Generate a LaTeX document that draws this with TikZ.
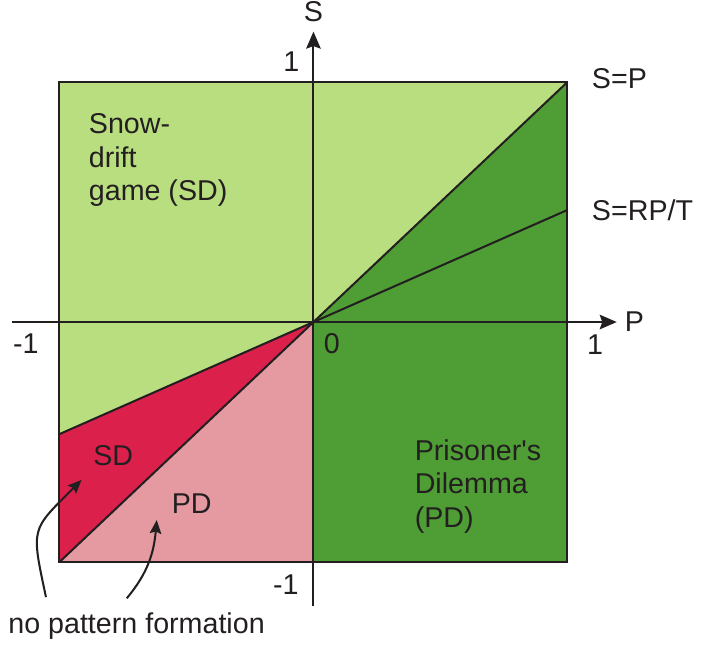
\documentclass[tikz,border=0pt]{standalone}
\usepackage{fontspec}
\setmainfont{Liberation Sans}
\usepackage{tikz}
\usetikzlibrary{arrows.meta}
\usepackage{xcolor}
\definecolor{ink}{HTML}{231F20}
\definecolor{sdlight}{HTML}{B9DE80}
\definecolor{pdgreen}{HTML}{4F9D35}
\definecolor{sdred}{HTML}{DC204C}
\definecolor{pdpink}{HTML}{E59AA1}
\tikzset{
  lbl/.style={inner sep=0pt},
  axis/.style={-{Stealth[length=3.4mm,width=2.9mm,inset=0.5mm]}},
  pointer/.style={-{Stealth[length=2.7mm,width=2.3mm,inset=0.4mm]}}
}

\begin{document}
\begin{tikzpicture}[x=5.08cm,y=4.8cm,line width=1.15pt,color=ink,
  font=\fontsize{16.3pt}{19pt}\selectfont]
\useasboundingbox (-1.234,-1.35) rectangle (1.5965,1.3417);
% regions of the (P,S) square
\fill[sdlight] (-1,-1) rectangle (1,1);
\fill[pdgreen] (0,0) -- (1,1) -- (1,-1) -- (0,-1) -- cycle;
\fill[sdred] (0,0) -- (-1,-0.467) -- (-1,-1) -- cycle;
\fill[pdpink] (0,0) -- (-1,-1) -- (0,-1) -- cycle;
% dividing lines
\draw (-1,-1) -- (1,1);
\draw (-1,-0.467) -- (1,0.467);
\draw (-1,-1) rectangle (1,1);
% axes
\draw[axis] (-1.186,0) -- (1.194,0) node[lbl,right=0.14cm] (plabel) {P};
\draw[axis] (0,-1.183) -- (0,1.21) node[lbl,above=0.17cm] (slabel) {S};
\node[lbl] (ytop) at (-0.087,1.086) {1};
\node[lbl] (ybot) at (-0.109,-1.096) {-1};
\node[lbl] (xleft) at (-1.132,-0.092) {-1};
\node[lbl] (xzero) at (0.072,-0.092) {0};
\node[lbl] (xright) at (1.109,-0.096) {1};
\node[lbl,anchor=base west] (sp) at (1.0925,0.974) {S=P};
\node[lbl,anchor=base west] (srpt) at (1.0925,0.425) {S=RP/T};
% region labels
\node[lbl,anchor=north west,align=left] (sdgame) at (-0.888,0.871) {Snow-\\drift\\game (SD)};
\node[lbl,anchor=north west,align=left] (pdgame) at (0.395,-0.486) {Prisoner\textquotesingle s\\Dilemma\\(PD)};
\node[lbl] (sdsmall) at (-0.788,-0.558) {SD};
\node[lbl] (pdsmall) at (-0.4795,-0.755) {PD};
\node[lbl,anchor=base west] (npf) at (-1.205,-1.297) {no pattern formation};
% pointers
\coordinate (sdfrom) at (-1.053,-1.146);
\coordinate (sdto) at (-0.913,-0.658);
\coordinate (pdfrom) at (-0.735,-1.151);
\coordinate (pdto) at (-0.617,-0.825);
\draw[pointer] (sdfrom) to[out=102,in=225,looseness=1.5] (sdto);
\draw[pointer] (pdfrom) to[out=50,in=265] (pdto);
\end{tikzpicture}
\end{document}
